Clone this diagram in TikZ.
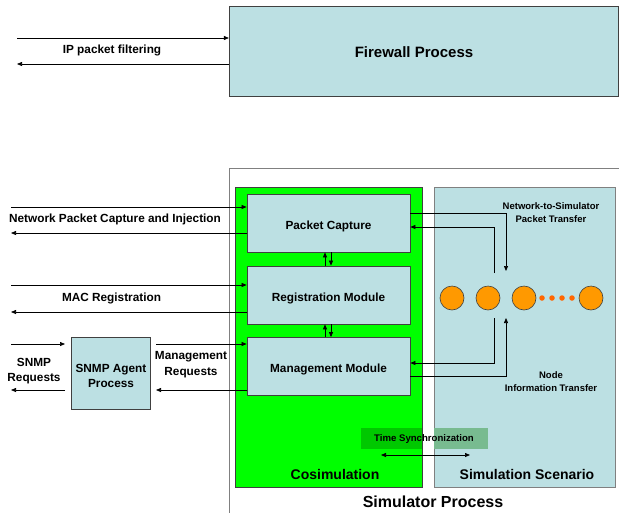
\documentclass[tikz,border=0pt]{standalone}
\usepackage{fontspec}
\setmainfont{Liberation Sans}
\usetikzlibrary{arrows.meta}
\definecolor{lblue}{RGB}{188,224,227}
\definecolor{brgreen}{RGB}{0,255,0}
\definecolor{tsgreenA}{RGB}{0,200,0}
\definecolor{tsgreenB}{RGB}{120,187,144}
\definecolor{orng}{RGB}{255,153,0}
\definecolor{dots}{RGB}{255,102,0}
\definecolor{bord}{RGB}{64,64,64}
\tikzset{
  lbl/.style={font=\bfseries\fontsize{11.8}{13}\selectfont, align=center, inner sep=0pt},
  small/.style={font=\bfseries\fontsize{9.5}{13}\selectfont, align=center, inner sep=0pt},
  big/.style={font=\bfseries\fontsize{14}{16}\selectfont, inner sep=0pt},
  modbox/.style={draw=bord, line width=0.8pt, fill=lblue, minimum width=163pt, minimum height=58pt, inner sep=0pt, text height=12pt, text depth=0pt, font=\bfseries\fontsize{11.8}{13}\selectfont},
  arr/.style={draw=black, line width=0.7pt, -{Triangle[length=5pt,width=4pt]}},
  darr/.style={draw=black, line width=0.7pt, {Triangle[length=5pt,width=4pt]}-{Triangle[length=5pt,width=4pt]}},
  circ/.style={circle, draw=bord, line width=0.6pt, fill=orng, minimum size=24pt, inner sep=0pt},
  dot/.style={circle, fill=dots, minimum size=5.5pt, inner sep=0pt}
}
\begin{document}
\begin{tikzpicture}[x=1pt,y=-1pt]
\useasboundingbox (0,0) rectangle (619,512);
\clip (0,0) rectangle (619,512);
\fill[white] (0,0) rectangle (619,512);
% Firewall
\node[draw=bord, line width=0.8pt, fill=lblue, minimum width=389pt, minimum height=90pt, inner sep=0pt] (fw) at (423.75,51) {};
\node[font=\bfseries\fontsize{15}{17}\selectfont, inner sep=0pt] (fwt) at (414,52) {Firewall Process};
\coordinate (ipL1) at (17,38);
\coordinate (ipL2) at (17,64);
\draw[arr] (ipL1) -- (fw.west |- ipL1);
\draw[arr] (fw.west |- ipL2) -- (ipL2);
\node[lbl] (ipt) at (112,50.5) {IP packet filtering};
% Simulator process outer
\draw[draw=gray, line width=0.8pt] (229,530) -- (229,168) -- (640,168);
\node[font=\bfseries\fontsize{16}{18}\selectfont, inner sep=0pt] (spt) at (433,502) {Simulator Process};
% Cosimulation
\node[draw=bord, line width=0.8pt, fill=brgreen, minimum width=187pt, minimum height=300pt, inner sep=0pt] (cos) at (328.5,337) {};
\node[big] (cost) at (335,474) {Cosimulation};
% Simulation scenario
\node[draw=gray, line width=0.8pt, fill=lblue, minimum width=181pt, minimum height=300pt, inner sep=0pt] (ss) at (524.5,337) {};
\node[big] (sst) at (527,474) {Simulation Scenario};
% Modules
\node[modbox] (pc) at (328.5,223) {Packet Capture};
\node[modbox] (rm) at (328.5,295) {Registration Module};
\node[modbox] (mm) at (328.5,366.5) {Management Module};
% vertical double arrows
\draw[arr] ([xshift=-3.5pt]rm.north) -- ([xshift=-3.5pt]pc.south);
\draw[arr] ([xshift=2.5pt]pc.south) -- ([xshift=2.5pt]rm.north);
\draw[arr] ([xshift=-3.5pt]mm.north) -- ([xshift=-3.5pt]rm.south);
\draw[arr] ([xshift=2.5pt]rm.south) -- ([xshift=2.5pt]mm.north);
% left arrows
\coordinate (n1) at (11,207);
\coordinate (n2) at (11,233);
\draw[arr] (n1) -- (pc.west |- n1);
\draw[arr] (pc.west |- n2) -- (n2);
\node[lbl] (npt) at (115,219.5) {Network Packet Capture and Injection};
\coordinate (m1) at (11,285);
\coordinate (m2) at (11,312);
\draw[arr] (m1) -- (rm.west |- m1);
\draw[arr] (rm.west |- m2) -- (m2);
\node[lbl] (mact) at (111.5,298) {MAC Registration};
% SNMP agent
\node[draw=bord, line width=0.8pt, fill=lblue, minimum width=79pt, minimum height=72pt, inner sep=0pt] (snmp) at (111,373) {};
\node[lbl, font=\bfseries\fontsize{11.8}{14.5}\selectfont] (snmpt) at (111,376) {SNMP Agent\\Process};
\coordinate (s1) at (11,344);
\coordinate (s1e) at (65,344);
\coordinate (s2) at (11,390);
\coordinate (s2s) at (65,390);
\draw[arr] (s1) -- (s1e);
\draw[arr] (s2s) -- (s2);
\node[lbl, font=\bfseries\fontsize{11.8}{15}\selectfont] (snt) at (34,371.5) {SNMP\\Requests};
\coordinate (r1) at (156,344);
\coordinate (r2) at (156,390);
\draw[arr] (r1) -- (mm.west |- r1);
\draw[arr] (mm.west |- r2) -- (r2);
\node[lbl, font=\bfseries\fontsize{11.8}{15.5}\selectfont] (mrt) at (191,364.5) {Management\\Requests};
% circles
\node[circ] (c1) at (452,298) {};
\node[circ] (c2) at (488,298) {};
\node[circ] (c3) at (524,298) {};
\node[circ] (c4) at (591,298) {};
\node[dot] (d1) at (542,298) {};
\node[dot] (d2) at (552,298) {};
\node[dot] (d3) at (562,298) {};
\node[dot] (d4) at (572,298) {};
% right connectors
\coordinate (ta) at (506,271);
\coordinate (tb) at (494,273);
\coordinate (ba) at (494,318);
\coordinate (bb) at (506,318);
\draw[arr] ([yshift=10pt]pc.east) -| (ta);
\draw[arr] (tb) |- ([yshift=-4pt]pc.east);
\draw[arr] (ba) |- ([yshift=3.5pt]mm.east);
\draw[arr] ([yshift=-9.5pt]mm.east) -| (bb);
\node[small] (nst) at (551,212.5) {Network-to-Simulator\\Packet Transfer};
\node[small] (nit) at (551,381.5) {Node\\Information Transfer};
% time sync
\fill[tsgreenA] (361,428) rectangle (421.6,449);
\fill[tsgreenB] (434.4,428) rectangle (488,449);
\node[small, font=\bfseries\fontsize{9.6}{12}\selectfont] (tst) at (424,439.5) {Time Synchronization};
\coordinate (t1) at (381,455);
\coordinate (t2) at (470,455);
\draw[darr] (t1) -- (t2);
\end{tikzpicture}
\end{document}
